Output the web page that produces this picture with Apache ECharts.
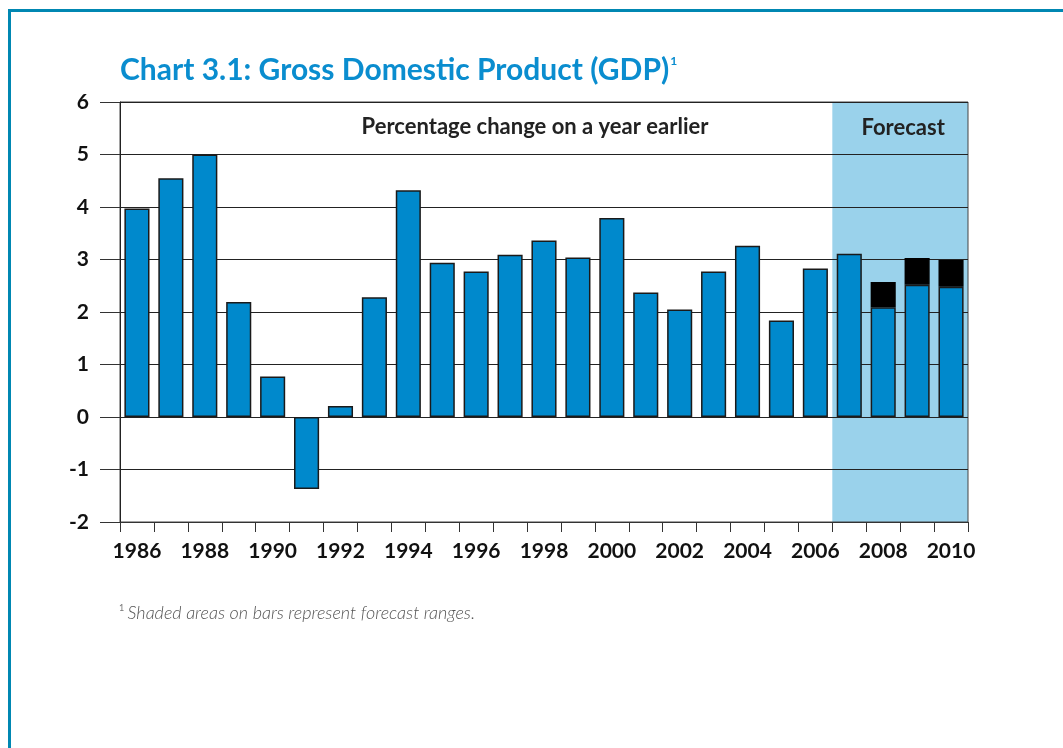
<!DOCTYPE html>
<html>
<head>
<meta charset="utf-8">
<script src="https://cdn.jsdelivr.net/npm/echarts@6/dist/echarts.min.js"></script>
<style>
  html, body { margin: 0; padding: 0; background: #fff; }
  #frame {
    position: absolute; left: 8px; top: 9px; width: 1060px; height: 745px;
    border-top: 3px solid #0087b2; border-left: 3px solid #0087b2;
  }
  #main { position: absolute; left: 0; top: 0; width: 1063px; height: 748px; }
</style>
</head>
<body>
<div id="frame"></div>
<div id="main"></div>
<script>
// years on the x axis
var years = ['1986','1987','1988','1989','1990','1991','1992','1993','1994','1995','1996','1997','1998',
             '1999','2000','2001','2002','2003','2004','2005','2006','2007','2008','2009','2010'];
// GDP growth, % change on a year earlier (lower end for forecast years)
var gdp = [3.97, 4.55, 5.0, 2.19, 0.77, -1.37, 0.21, 2.28, 4.32, 2.94, 2.77, 3.09, 3.36,
           3.04, 3.79, 2.37, 2.05, 2.77, 3.26, 1.84, 2.83, 3.11, 2.09, 2.52, 2.48];
// height of the forecast range sitting on top of the bar
var range = [null, null, null, null, null, null, null, null, null, null, null, null, null,
             null, null, null, null, null, null, null, null, null, 0.48, 0.51, 0.51];
// forecast shading, in category index units (start of 2007 to end of 2010)
var forecastSpan = [21, 25];
var yTicks = [-2, 6, 1];

var chart = echarts.init(document.getElementById('main'));
window.addEventListener('resize', function () {
    chart.resize();
});

var fontB = 'Lato, "Open Sans", sans-serif';

var option = {
    animation: false,
    title: {
        left: 115,
        top: 50,
        text: '{a|Chart 3.1: Gross Domestic Product (GDP)}{b|1}',
        textStyle: {
            rich: {
                a: { fontFamily: fontB, fontWeight: 'bold', fontSize: 30, color: '#0a8dcf' },
                b: { fontFamily: fontB, fontWeight: 'bold', fontSize: 12, color: '#0a8dcf', verticalAlign: 'top', padding: [0, 0, 16, 1] }
            }
        }
    },
    grid: {
        left: 120, right: 95, top: 102, bottom: 226,
        show: true, borderColor: '#444', borderWidth: 1, backgroundColor: 'transparent'
    },
    graphic: [
        {
            type: 'text', x: 535, y: 127,
            style: {
                text: 'Percentage change on a year earlier',
                fontFamily: fontB, fontWeight: 'bold', fontSize: 22, fill: '#222',
                textAlign: 'center', textVerticalAlign: 'middle'
            }
        },
        {
            type: 'text', x: 119, y: 613,
            style: {
                text: '{s|1} {t|Shaded areas on bars represent forecast ranges.}',
                textVerticalAlign: 'middle',
                rich: {
                    s: { fontFamily: fontB, fontSize: 9, fill: '#777', verticalAlign: 'top', padding: [0, 0, 9, 0] },
                    t: { fontFamily: fontB, fontStyle: 'italic', fontWeight: 300, fontSize: 18, fill: '#555' }
                }
            }
        }
    ],
    xAxis: [
        {
            type: 'category',
            data: years,
            position: 'bottom',
            axisLine: { onZero: false, lineStyle: { color: '#333', width: 1 } },
            axisTick: { show: true, interval: 0, length: 10, lineStyle: { color: '#333' } },
            axisLabel: {
                interval: 1, margin: 19,
                fontFamily: fontB, fontWeight: 'bold', fontSize: 21, color: '#111'
            },
            splitLine: { show: false }
        },
        {
            type: 'value', min: 0, max: years.length,
            show: false
        }
    ],
    yAxis: {
        type: 'value',
        min: yTicks[0], max: yTicks[1], interval: yTicks[2],
        axisLine: { show: true, lineStyle: { color: '#222', width: 1 } },
        axisTick: { show: true, length: 20, lineStyle: { color: '#333' } },
        axisLabel: {
            margin: 31,
            fontFamily: fontB, fontWeight: 'bold', fontSize: 21, color: '#111'
        },
        splitLine: { show: true, lineStyle: { color: '#222', width: 1 } }
    },
    series: [
        {
            name: 'GDP',
            type: 'bar',
            stack: 'g',
            data: gdp,
            barCategoryGap: '26%',
            itemStyle: { color: '#0089cc', borderColor: '#1a1a1a', borderWidth: 1.5 }
        },
        {
            name: 'Forecast range',
            type: 'bar',
            stack: 'g',
            data: range,
            barCategoryGap: '26%',
            itemStyle: { color: '#000', borderColor: '#000', borderWidth: 1.5 }
        },
        {
            name: 'shade',
            type: 'line',
            xAxisIndex: 1,
            data: [],
            z: -1,
            silent: true,
            markArea: {
                silent: true,
                z: -1,
                itemStyle: { color: '#9ad2eb' },
                label: {
                    show: true, position: 'insideTop', distance: 15, offset: [3, 0],
                    fontFamily: fontB, fontWeight: 'bold', fontSize: 22, color: '#222'
                },
                data: [[{ name: 'Forecast', xAxis: forecastSpan[0] }, { xAxis: forecastSpan[1] }]]
            }
        }
    ]
};

chart.setOption(option);
</script>
</body>
</html>
